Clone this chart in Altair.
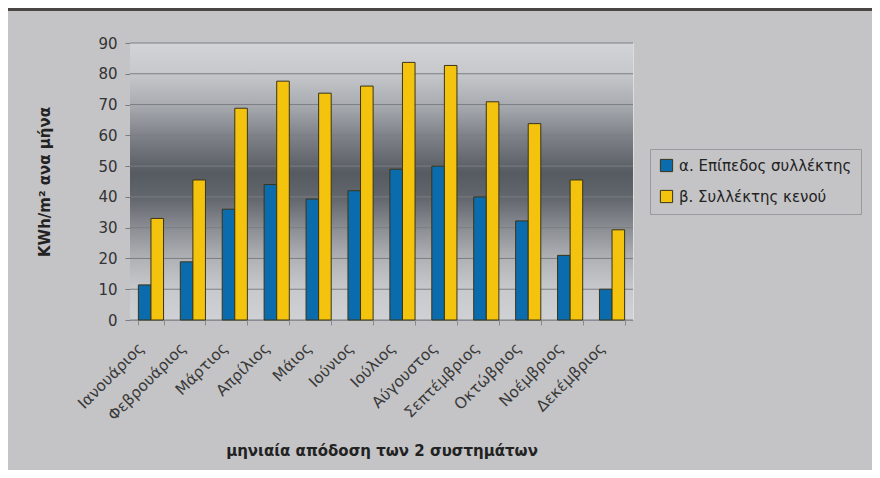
import altair as alt
import pandas as pd

months = ["Ιανουάριος", "Φεβρουάριος", "Μάρτιος", "Απρίλιος", "Μάιος", "Ιούνιος",
          "Ιούλιος", "Αύγουστος", "Σεπτέμβριος", "Οκτώβριος", "Νοέμβριος", "Δεκέμβριος"]
series = ["α. Επίπεδος συλλέκτης", "β. Συλλέκτης κενού"]
flat = [11.4, 18.9, 36, 44, 39.3, 42, 49, 50, 40, 32.2, 21, 10]
vacuum = [33, 45.5, 68.8, 77.6, 73.7, 76, 83.7, 82.7, 70.9, 63.8, 45.5, 29.3]
yticks = [0, 10, 20, 30, 40, 50, 60, 70, 80, 90]

rows = []
for m, a, b in zip(months, flat, vacuum):
    rows.append({"month": m, "series": series[0], "value": a})
    rows.append({"month": m, "series": series[1], "value": b})
df = pd.DataFrame(rows)
ticks_df = pd.DataFrame({"value": yticks})
one = pd.DataFrame({"a": [0]})

W, H = 503, 277
FONT = "DejaVu Sans"

grad = alt.LinearGradient(
    gradient="linear", x1=0, x2=0, y1=0, y2=1,
    stops=[
        alt.GradientStop(offset=0.0, color="#d3d4d7"),
        alt.GradientStop(offset=0.11, color="#c6c8cb"),
        alt.GradientStop(offset=0.22, color="#a9acb1"),
        alt.GradientStop(offset=0.33, color="#80848a"),
        alt.GradientStop(offset=0.47, color="#565a61"),
        alt.GradientStop(offset=0.56, color="#62666d"),
        alt.GradientStop(offset=0.67, color="#8b8e93"),
        alt.GradientStop(offset=0.78, color="#b0b2b6"),
        alt.GradientStop(offset=0.89, color="#c8c9cc"),
        alt.GradientStop(offset=1.0, color="#d0d1d4"),
    ],
)

bg = alt.Chart(one).mark_rect(color=grad).encode(
    x=alt.value(0), x2=alt.value(W), y=alt.value(0), y2=alt.value(H)
)

topstrip = alt.Chart(one).mark_rect(color="#4a4646").encode(
    x=alt.value(-122), x2=alt.value(W + 239), y=alt.value(-35), y2=alt.value(-32)
)

yscale = alt.Scale(domain=[0, 90], nice=False)
yaxis = alt.Axis(values=yticks, domain=False, grid=False,
                 tickColor="#7a7a7a", tickSize=5,
                 labelFontSize=15, labelColor="#333333", labelFont=FONT,
                 labelPadding=8,
                 title="KWh/m² ανα μήνα", titleFontSize=15,
                 titleFontWeight="bold", titleColor="#222222", titleFont=FONT,
                 titleAngle=270, titleBaseline="bottom",
                 titleX=-78, titleY=H / 2)

grid = alt.Chart(ticks_df).mark_rule(color="#7b7e83", strokeWidth=1).encode(
    y=alt.Y("value:Q", scale=yscale, axis=yaxis)
)

bars = alt.Chart(df).mark_bar(stroke="#3a3418", strokeWidth=1).encode(
    x=alt.X("month:N", sort=months,
            scale=alt.Scale(paddingInner=0.4, paddingOuter=0.2),
            axis=alt.Axis(labelAngle=315, labelAlign="right", labelBaseline="top",
                          labelFontSize=15.5, labelColor="#3a3a3a", labelFont=FONT,
                          labelPadding=15, labelOffset=-15,
                          tickBand="extent", tickSize=5, tickColor="#8a8a8a",
                          domainColor="#9a9a9e",
                          title="μηνιαία απόδοση των 2 συστημάτων",
                          titleFontSize=15, titleFontWeight="bold", titleColor="#222222",
                          titleFont=FONT, titleY=123, titleBaseline="top")),
    xOffset=alt.XOffset("series:N", sort=series,
                        scale=alt.Scale(paddingInner=0, paddingOuter=0)),
    y=alt.Y("value:Q", scale=yscale, axis=yaxis),
    color=alt.Color("series:N", sort=series,
                    scale=alt.Scale(domain=series, range=["#0b6cad", "#f4c30e"]),
                    legend=alt.Legend(title=None, orient="none", legendX=520, legendY=106,
                                      strokeColor="#9a9a9e", padding=9, rowPadding=14,
                                      symbolType="square", symbolSize=150,
                                      symbolStrokeColor="#3a3418", symbolStrokeWidth=1,
                                      labelFontSize=15, labelFont=FONT, labelColor="#222222",
                                      labelOffset=5, labelLimit=400)),
)

chart = alt.layer(topstrip, bg, grid, bars).properties(
    width=W, height=H,
    padding={"left": 122, "top": 35, "right": 239, "bottom": 150},
    autosize=alt.AutoSizeParams(type="none"),
    background="#c4c4c6",
).configure_view(stroke="#9a9a9e", strokeWidth=1).configure(font=FONT)

chart.save("out.html", embed_options={"renderer": "svg", "actions": False})
